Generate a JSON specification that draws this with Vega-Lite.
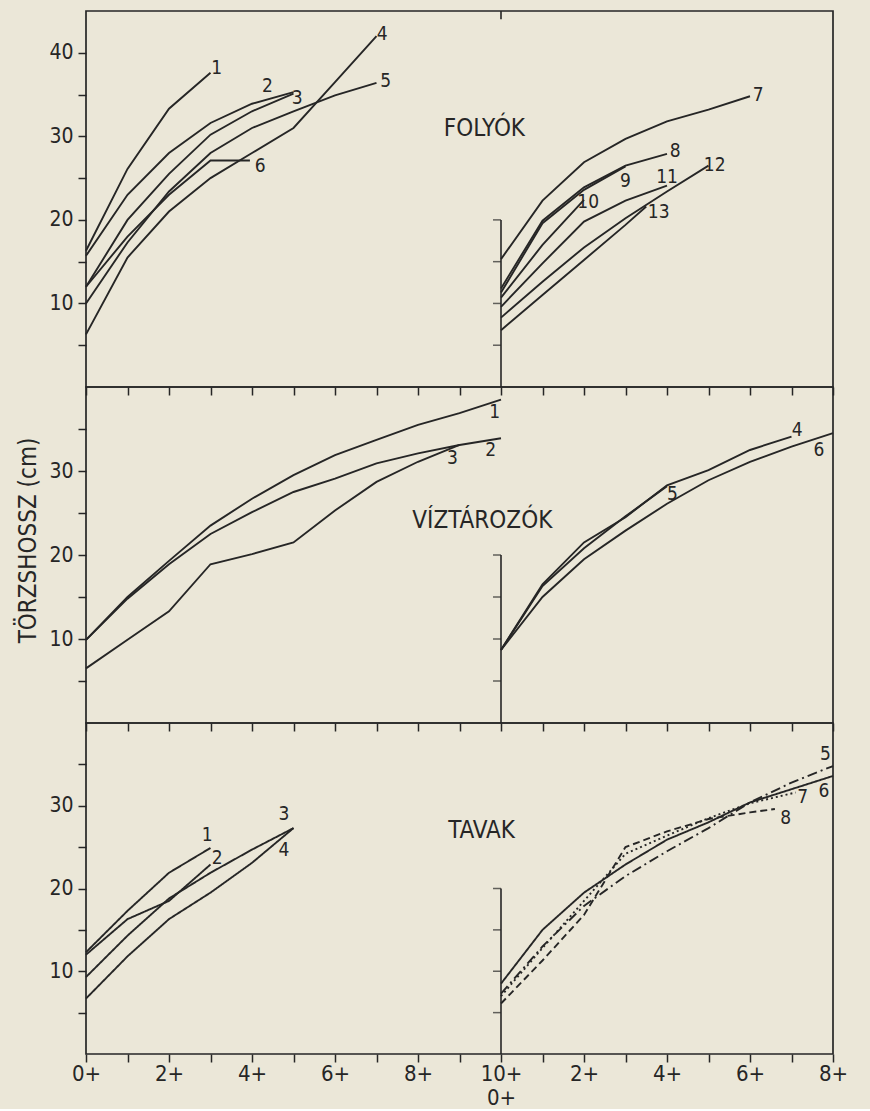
{
  "$schema": "https://vega.github.io/schema/vega-lite/v6.json",
  "background": "#ebe7d8",
  "padding": {"left": 16, "top": 9, "right": 36, "bottom": 0},
  "spacing": 0,
  "bounds": "flush",
  "datasets": {
    "folyok": [
      {"curve": "1", "age": 0, "len": 16.3}, {"curve": "1", "age": 1, "len": 26.1}, {"curve": "1", "age": 2, "len": 33.3}, {"curve": "1", "age": 3, "len": 37.6},
      {"curve": "2", "age": 0, "len": 15.7}, {"curve": "2", "age": 1, "len": 23.0}, {"curve": "2", "age": 2, "len": 28.0}, {"curve": "2", "age": 3, "len": 31.6}, {"curve": "2", "age": 4, "len": 33.9}, {"curve": "2", "age": 5, "len": 35.3},
      {"curve": "3", "age": 0, "len": 12.0}, {"curve": "3", "age": 1, "len": 20.0}, {"curve": "3", "age": 2, "len": 25.5}, {"curve": "3", "age": 3, "len": 30.2}, {"curve": "3", "age": 4, "len": 33.0}, {"curve": "3", "age": 5, "len": 35.1},
      {"curve": "4", "age": 0, "len": 6.3}, {"curve": "4", "age": 1, "len": 15.5}, {"curve": "4", "age": 2, "len": 21.0}, {"curve": "4", "age": 3, "len": 25.0}, {"curve": "4", "age": 4, "len": 28.0}, {"curve": "4", "age": 5, "len": 31.0}, {"curve": "4", "age": 6, "len": 36.5}, {"curve": "4", "age": 7, "len": 42.0},
      {"curve": "5", "age": 0, "len": 10.0}, {"curve": "5", "age": 1, "len": 17.3}, {"curve": "5", "age": 2, "len": 23.4}, {"curve": "5", "age": 3, "len": 28.0}, {"curve": "5", "age": 4, "len": 31.0}, {"curve": "5", "age": 5, "len": 33.0}, {"curve": "5", "age": 6, "len": 34.9}, {"curve": "5", "age": 7, "len": 36.4},
      {"curve": "6", "age": 0, "len": 12.0}, {"curve": "6", "age": 1, "len": 18.0}, {"curve": "6", "age": 2, "len": 23.0}, {"curve": "6", "age": 3, "len": 27.1}, {"curve": "6", "age": 3.95, "len": 27.1},
      {"curve": "7", "age": 10, "len": 15.3}, {"curve": "7", "age": 11, "len": 22.3}, {"curve": "7", "age": 12, "len": 26.9}, {"curve": "7", "age": 13, "len": 29.7}, {"curve": "7", "age": 14, "len": 31.8}, {"curve": "7", "age": 15, "len": 33.2}, {"curve": "7", "age": 16, "len": 34.8},
      {"curve": "8", "age": 10, "len": 11.8}, {"curve": "8", "age": 11, "len": 19.9}, {"curve": "8", "age": 12, "len": 23.9}, {"curve": "8", "age": 13, "len": 26.5}, {"curve": "8", "age": 14, "len": 27.9},
      {"curve": "9", "age": 10, "len": 11.3}, {"curve": "9", "age": 11, "len": 19.6}, {"curve": "9", "age": 12, "len": 23.6}, {"curve": "9", "age": 13, "len": 26.4},
      {"curve": "10", "age": 10, "len": 10.7}, {"curve": "10", "age": 11, "len": 17.0}, {"curve": "10", "age": 12, "len": 22.4},
      {"curve": "11", "age": 10, "len": 9.6}, {"curve": "11", "age": 11, "len": 14.8}, {"curve": "11", "age": 12, "len": 19.8}, {"curve": "11", "age": 13, "len": 22.3}, {"curve": "11", "age": 14, "len": 24.1},
      {"curve": "12", "age": 10, "len": 8.3}, {"curve": "12", "age": 11, "len": 12.6}, {"curve": "12", "age": 12, "len": 16.7}, {"curve": "12", "age": 13, "len": 20.2}, {"curve": "12", "age": 14, "len": 23.4}, {"curve": "12", "age": 15, "len": 26.5},
      {"curve": "13", "age": 10, "len": 6.8}, {"curve": "13", "age": 11, "len": 11.0}, {"curve": "13", "age": 12, "len": 15.2}, {"curve": "13", "age": 13, "len": 19.4}, {"curve": "13", "age": 13.5, "len": 21.6}
    ],
    "folyok_labels": [
      {"label": "1", "age": 3.15, "len": 38.2}, {"label": "2", "age": 4.37, "len": 36.0}, {"label": "3", "age": 5.09, "len": 34.6},
      {"label": "4", "age": 7.14, "len": 42.2}, {"label": "5", "age": 7.22, "len": 36.6}, {"label": "6", "age": 4.2, "len": 26.5},
      {"label": "7", "age": 16.2, "len": 34.9}, {"label": "8", "age": 14.2, "len": 28.2}, {"label": "9", "age": 13.0, "len": 24.7},
      {"label": "10", "age": 12.1, "len": 22.2}, {"label": "11", "age": 14.0, "len": 25.1}, {"label": "12", "age": 15.15, "len": 26.6},
      {"label": "13", "age": 13.8, "len": 21.0}
    ],
    "viz": [
      {"curve": "1", "age": 0, "len": 9.9}, {"curve": "1", "age": 1, "len": 15.0}, {"curve": "1", "age": 2, "len": 19.3}, {"curve": "1", "age": 3, "len": 23.5}, {"curve": "1", "age": 4, "len": 26.7}, {"curve": "1", "age": 5, "len": 29.5}, {"curve": "1", "age": 6, "len": 31.9}, {"curve": "1", "age": 7, "len": 33.7}, {"curve": "1", "age": 8, "len": 35.5}, {"curve": "1", "age": 9, "len": 36.9}, {"curve": "1", "age": 10, "len": 38.5},
      {"curve": "2", "age": 0, "len": 9.9}, {"curve": "2", "age": 1, "len": 14.8}, {"curve": "2", "age": 2, "len": 18.9}, {"curve": "2", "age": 3, "len": 22.5}, {"curve": "2", "age": 4, "len": 25.1}, {"curve": "2", "age": 5, "len": 27.5}, {"curve": "2", "age": 6, "len": 29.1}, {"curve": "2", "age": 7, "len": 30.9}, {"curve": "2", "age": 8, "len": 32.1}, {"curve": "2", "age": 9, "len": 33.1}, {"curve": "2", "age": 10, "len": 33.9},
      {"curve": "3", "age": 0, "len": 6.5}, {"curve": "3", "age": 1, "len": 9.9}, {"curve": "3", "age": 2, "len": 13.3}, {"curve": "3", "age": 3, "len": 18.9}, {"curve": "3", "age": 4, "len": 20.1}, {"curve": "3", "age": 5, "len": 21.5}, {"curve": "3", "age": 6, "len": 25.3}, {"curve": "3", "age": 7, "len": 28.7}, {"curve": "3", "age": 8, "len": 31.1}, {"curve": "3", "age": 9, "len": 33.1},
      {"curve": "4", "age": 10, "len": 8.7}, {"curve": "4", "age": 11, "len": 16.5}, {"curve": "4", "age": 12, "len": 21.5}, {"curve": "4", "age": 13, "len": 24.5}, {"curve": "4", "age": 14, "len": 28.3}, {"curve": "4", "age": 15, "len": 30.1}, {"curve": "4", "age": 16, "len": 32.5}, {"curve": "4", "age": 17, "len": 34.1},
      {"curve": "5", "age": 10, "len": 8.7}, {"curve": "5", "age": 11, "len": 16.3}, {"curve": "5", "age": 12, "len": 20.8}, {"curve": "5", "age": 13, "len": 24.6}, {"curve": "5", "age": 14, "len": 28.2},
      {"curve": "6", "age": 10, "len": 8.7}, {"curve": "6", "age": 11, "len": 15.0}, {"curve": "6", "age": 12, "len": 19.5}, {"curve": "6", "age": 13, "len": 22.9}, {"curve": "6", "age": 14, "len": 26.1}, {"curve": "6", "age": 15, "len": 28.9}, {"curve": "6", "age": 16, "len": 31.1}, {"curve": "6", "age": 17, "len": 32.9}, {"curve": "6", "age": 18, "len": 34.5}
    ],
    "viz_labels": [
      {"label": "1", "age": 9.85, "len": 37.0}, {"label": "2", "age": 9.75, "len": 32.5}, {"label": "3", "age": 8.83, "len": 31.5},
      {"label": "4", "age": 17.14, "len": 34.9}, {"label": "5", "age": 14.13, "len": 27.3}, {"label": "6", "age": 17.66, "len": 32.5}
    ],
    "tavak": [
      {"curve": "1", "style": "solid", "age": 0, "len": 12.3}, {"curve": "1", "style": "solid", "age": 1, "len": 17.3}, {"curve": "1", "style": "solid", "age": 2, "len": 21.9}, {"curve": "1", "style": "solid", "age": 3, "len": 24.9},
      {"curve": "2", "style": "solid", "age": 0, "len": 12.0}, {"curve": "2", "style": "solid", "age": 1, "len": 16.3}, {"curve": "2", "style": "solid", "age": 2, "len": 18.5}, {"curve": "2", "style": "solid", "age": 3, "len": 22.9},
      {"curve": "3", "style": "solid", "age": 0, "len": 9.3}, {"curve": "3", "style": "solid", "age": 1, "len": 14.3}, {"curve": "3", "style": "solid", "age": 2, "len": 18.8}, {"curve": "3", "style": "solid", "age": 3, "len": 21.9}, {"curve": "3", "style": "solid", "age": 4, "len": 24.7}, {"curve": "3", "style": "solid", "age": 5, "len": 27.3},
      {"curve": "4", "style": "solid", "age": 0, "len": 6.7}, {"curve": "4", "style": "solid", "age": 1, "len": 11.8}, {"curve": "4", "style": "solid", "age": 2, "len": 16.3}, {"curve": "4", "style": "solid", "age": 3, "len": 19.5}, {"curve": "4", "style": "solid", "age": 4, "len": 23.1}, {"curve": "4", "style": "solid", "age": 5, "len": 27.3},
      {"curve": "5", "style": "dashdot", "age": 10, "len": 7.3}, {"curve": "5", "style": "dashdot", "age": 11, "len": 13.0}, {"curve": "5", "style": "dashdot", "age": 12, "len": 17.9}, {"curve": "5", "style": "dashdot", "age": 13, "len": 21.5}, {"curve": "5", "style": "dashdot", "age": 14, "len": 24.5}, {"curve": "5", "style": "dashdot", "age": 15, "len": 27.3}, {"curve": "5", "style": "dashdot", "age": 16, "len": 30.4}, {"curve": "5", "style": "dashdot", "age": 17, "len": 32.8}, {"curve": "5", "style": "dashdot", "age": 18, "len": 34.8},
      {"curve": "6", "style": "solid", "age": 10, "len": 8.5}, {"curve": "6", "style": "solid", "age": 11, "len": 15.0}, {"curve": "6", "style": "solid", "age": 12, "len": 19.5}, {"curve": "6", "style": "solid", "age": 13, "len": 22.9}, {"curve": "6", "style": "solid", "age": 14, "len": 25.9}, {"curve": "6", "style": "solid", "age": 15, "len": 28.0}, {"curve": "6", "style": "solid", "age": 16, "len": 30.4}, {"curve": "6", "style": "solid", "age": 17, "len": 32.0}, {"curve": "6", "style": "solid", "age": 18, "len": 33.6},
      {"curve": "7", "style": "dotted", "age": 10, "len": 7.0}, {"curve": "7", "style": "dotted", "age": 11, "len": 12.8}, {"curve": "7", "style": "dotted", "age": 12, "len": 18.5}, {"curve": "7", "style": "dotted", "age": 13, "len": 24.2}, {"curve": "7", "style": "dotted", "age": 14, "len": 26.4}, {"curve": "7", "style": "dotted", "age": 15, "len": 28.5}, {"curve": "7", "style": "dotted", "age": 16, "len": 30.3}, {"curve": "7", "style": "dotted", "age": 17.1, "len": 31.6},
      {"curve": "8", "style": "dashed", "age": 10, "len": 6.1}, {"curve": "8", "style": "dashed", "age": 11, "len": 11.3}, {"curve": "8", "style": "dashed", "age": 12, "len": 16.8}, {"curve": "8", "style": "dashed", "age": 13, "len": 25.0}, {"curve": "8", "style": "dashed", "age": 14, "len": 26.9}, {"curve": "8", "style": "dashed", "age": 15, "len": 28.4}, {"curve": "8", "style": "dashed", "age": 16, "len": 29.2}, {"curve": "8", "style": "dashed", "age": 16.6, "len": 29.6}
    ],
    "tavak_labels": [
      {"label": "1", "age": 2.92, "len": 26.5}, {"label": "2", "age": 3.16, "len": 23.7}, {"label": "3", "age": 4.77, "len": 29.0}, {"label": "4", "age": 4.77, "len": 24.7},
      {"label": "5", "age": 17.82, "len": 36.2}, {"label": "6", "age": 17.78, "len": 31.8}, {"label": "7", "age": 17.27, "len": 31.0}, {"label": "8", "age": 16.86, "len": 28.5}
    ],
    "subaxis_ticks": [{"len": 5}, {"len": 10}, {"len": 15}, {"len": 20}]
  },
  "vconcat": [
    {
      "width": 747,
      "height": 376,
      "layer": [
        {
          "data": {"name": "folyok"},
          "mark": {"type": "line", "color": "#262626", "strokeWidth": 1.9},
          "encoding": {
            "x": {"field": "age", "type": "quantitative", "scale": {"domain": [0, 18], "nice": false}, "axis": {"title": null, "values": [0,1,2,3,4,5,6,7,8,9,10,11,12,13,14,15,16,17,18], "labels": false}},
            "y": {"field": "len", "type": "quantitative", "scale": {"domain": [0, 45], "nice": false}, "axis": {"title": null, "values": [5,10,15,20,25,30,35,40], "labelExpr": "datum.value % 10 == 0 ? datum.label : ''"}},
            "detail": {"field": "curve"}
          }
        },
        {
          "data": {"values": [{"len": 0, "len2": 20}, {"len": 44, "len2": 45}]},
          "mark": {"type": "rule", "color": "#262626", "strokeWidth": 1.6},
          "encoding": {"x": {"datum": 10, "type": "quantitative"}, "y": {"field": "len", "type": "quantitative"}, "y2": {"field": "len2"}}
        },
        {
          "data": {"name": "subaxis_ticks"},
          "mark": {"type": "tick", "orient": "horizontal", "color": "#262626", "size": 8, "thickness": 1.5, "xOffset": -4},
          "encoding": {"x": {"datum": 10, "type": "quantitative"}, "y": {"field": "len", "type": "quantitative"}}
        },
        {
          "data": {"name": "folyok_labels"},
          "mark": {"type": "text", "fontSize": 19, "align": "center", "baseline": "middle"},
          "encoding": {"x": {"field": "age", "type": "quantitative"}, "y": {"field": "len", "type": "quantitative"}, "text": {"field": "label"}}
        },
        {
          "data": {"values": [{"name": "FOLYÓK", "age": 9.6, "len": 30.9}]},
          "mark": {"type": "text", "fontSize": 24, "align": "center", "baseline": "middle"},
          "encoding": {"x": {"field": "age", "type": "quantitative"}, "y": {"field": "len", "type": "quantitative"}, "text": {"field": "name"}}
        }
      ]
    },
    {
      "width": 747,
      "height": 336,
      "layer": [
        {
          "data": {"name": "viz"},
          "mark": {"type": "line", "color": "#262626", "strokeWidth": 1.9},
          "encoding": {
            "x": {"field": "age", "type": "quantitative", "scale": {"domain": [0, 18], "nice": false}, "axis": {"title": null, "values": [0,1,2,3,4,5,6,7,8,9,10,11,12,13,14,15,16,17,18], "labels": false}},
            "y": {"field": "len", "type": "quantitative", "scale": {"domain": [0, 40], "nice": false}, "axis": {"title": "TÖRZSHOSSZ (cm)", "titleY": 153, "values": [5,10,15,20,25,30,35], "labelExpr": "datum.value % 10 == 0 ? datum.label : ''"}},
            "detail": {"field": "curve"}
          }
        },
        {
          "data": {"values": [{"len": 0, "len2": 20}]},
          "mark": {"type": "rule", "color": "#262626", "strokeWidth": 1.6},
          "encoding": {"x": {"datum": 10, "type": "quantitative"}, "y": {"field": "len", "type": "quantitative"}, "y2": {"field": "len2"}}
        },
        {
          "data": {"name": "subaxis_ticks"},
          "mark": {"type": "tick", "orient": "horizontal", "color": "#262626", "size": 8, "thickness": 1.5, "xOffset": -4},
          "encoding": {"x": {"datum": 10, "type": "quantitative"}, "y": {"field": "len", "type": "quantitative"}}
        },
        {
          "data": {"name": "viz_labels"},
          "mark": {"type": "text", "fontSize": 19, "align": "center", "baseline": "middle"},
          "encoding": {"x": {"field": "age", "type": "quantitative"}, "y": {"field": "len", "type": "quantitative"}, "text": {"field": "label"}}
        },
        {
          "data": {"values": [{"name": "VÍZTÁROZÓK", "age": 9.55, "len": 24.1}]},
          "mark": {"type": "text", "fontSize": 24, "align": "center", "baseline": "middle"},
          "encoding": {"x": {"field": "age", "type": "quantitative"}, "y": {"field": "len", "type": "quantitative"}, "text": {"field": "name"}}
        }
      ]
    },
    {
      "width": 747,
      "height": 331,
      "layer": [
        {
          "data": {"name": "tavak"},
          "mark": {"type": "line", "color": "#262626", "strokeWidth": 1.9},
          "encoding": {
            "x": {"field": "age", "type": "quantitative", "scale": {"domain": [0, 18], "nice": false}, "axis": {"title": null, "values": [0,1,2,3,4,5,6,7,8,9,10,11,12,13,14,15,16,17,18], "labelFontSize": 22, "labelLineHeight": 24, "labelPadding": 1, "labelExpr": "datum.value % 2 == 1 ? '' : datum.value < 10 ? datum.value + '+' : datum.value == 10 ? ['10+', '0+'] : (datum.value - 10) + '+'"}},
            "y": {"field": "len", "type": "quantitative", "scale": {"domain": [0, 40], "nice": false}, "axis": {"title": null, "values": [5,10,15,20,25,30,35], "labelExpr": "datum.value % 10 == 0 ? datum.label : ''"}},
            "detail": {"field": "curve"},
            "strokeDash": {"field": "style", "type": "nominal", "legend": null, "scale": {"domain": ["solid", "dashdot", "dotted", "dashed"], "range": [[1, 0], [10, 4, 2, 4], [2, 3], [7, 4]]}}
          }
        },
        {
          "data": {"values": [{"len": 0, "len2": 20}]},
          "mark": {"type": "rule", "color": "#262626", "strokeWidth": 1.6},
          "encoding": {"x": {"datum": 10, "type": "quantitative"}, "y": {"field": "len", "type": "quantitative"}, "y2": {"field": "len2"}}
        },
        {
          "data": {"name": "subaxis_ticks"},
          "mark": {"type": "tick", "orient": "horizontal", "color": "#262626", "size": 8, "thickness": 1.5, "xOffset": -4},
          "encoding": {"x": {"datum": 10, "type": "quantitative"}, "y": {"field": "len", "type": "quantitative"}}
        },
        {
          "data": {"name": "tavak_labels"},
          "mark": {"type": "text", "fontSize": 19, "align": "center", "baseline": "middle"},
          "encoding": {"x": {"field": "age", "type": "quantitative"}, "y": {"field": "len", "type": "quantitative"}, "text": {"field": "label"}}
        },
        {
          "data": {"values": [{"name": "TAVAK", "age": 9.53, "len": 27.0}]},
          "mark": {"type": "text", "fontSize": 24, "align": "center", "baseline": "middle"},
          "encoding": {"x": {"field": "age", "type": "quantitative"}, "y": {"field": "len", "type": "quantitative"}, "text": {"field": "name"}}
        }
      ]
    }
  ],
  "config": {
    "font": "DejaVu Sans Condensed",
    "view": {"stroke": "#262626", "strokeWidth": 1.7},
    "axis": {
      "domain": false,
      "grid": false,
      "tickColor": "#262626",
      "tickWidth": 1.5,
      "tickSize": 8,
      "labelColor": "#262626",
      "labelFont": "DejaVu Sans Condensed",
      "labelFontSize": 21,
      "labelPadding": 5,
      "labelFlush": false,
      "labelOverlap": false,
      "titleFont": "DejaVu Sans Condensed",
      "titleFontSize": 24,
      "titleFontWeight": "normal",
      "titleColor": "#262626",
      "titlePadding": 8
    },
    "text": {"font": "DejaVu Sans Condensed", "color": "#262626"}
  }
}
